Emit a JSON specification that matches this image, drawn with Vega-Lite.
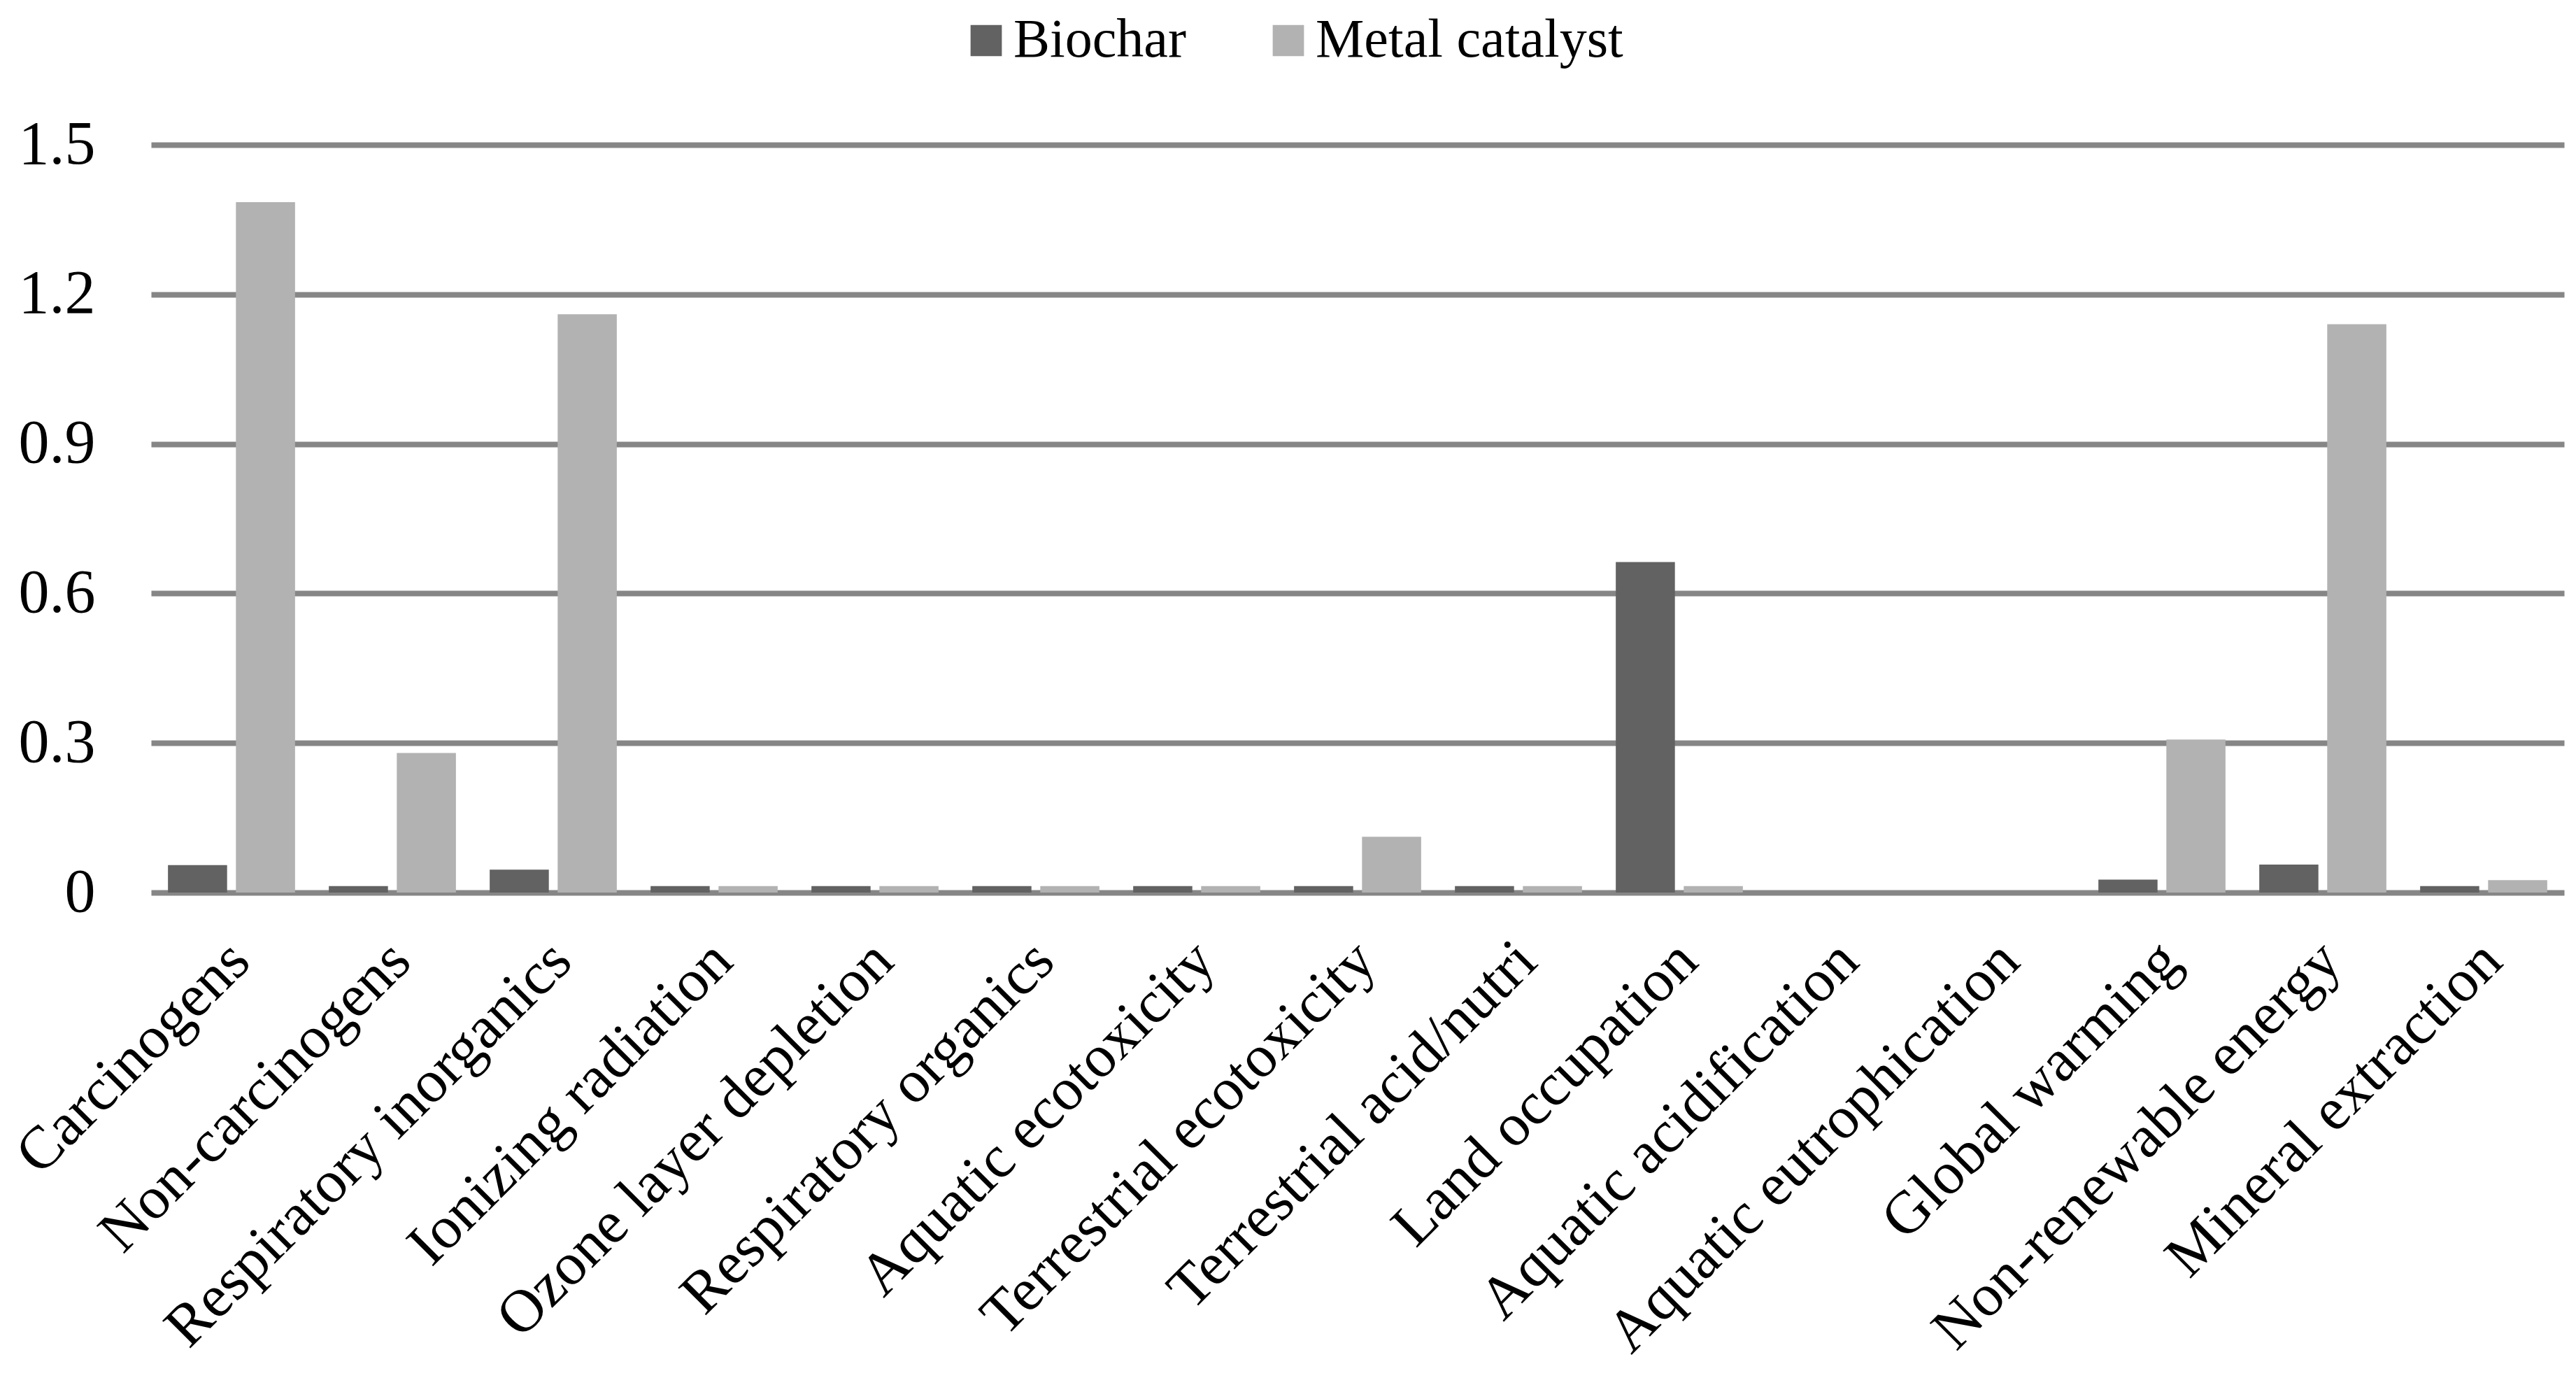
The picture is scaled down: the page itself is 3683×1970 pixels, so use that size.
{
  "$schema": "https://vega.github.io/schema/vega-lite/v6.json",
  "width": 3450,
  "height": 1069,
  "autosize": {"type": "none"},
  "padding": {"left": 216, "top": 207, "right": 17, "bottom": 694},
  "background": "white",
  "data": {
    "values": [
      {"category": "Carcinogens", "series": "Biochar", "value": 0.055},
      {"category": "Carcinogens", "series": "Metal catalyst", "value": 1.385},
      {"category": "Non-carcinogens", "series": "Biochar", "value": 0.013},
      {"category": "Non-carcinogens", "series": "Metal catalyst", "value": 0.28},
      {"category": "Respiratory inorganics", "series": "Biochar", "value": 0.046},
      {"category": "Respiratory inorganics", "series": "Metal catalyst", "value": 1.16},
      {"category": "Ionizing radiation", "series": "Biochar", "value": 0.013},
      {"category": "Ionizing radiation", "series": "Metal catalyst", "value": 0.013},
      {"category": "Ozone layer depletion", "series": "Biochar", "value": 0.013},
      {"category": "Ozone layer depletion", "series": "Metal catalyst", "value": 0.013},
      {"category": "Respiratory organics", "series": "Biochar", "value": 0.013},
      {"category": "Respiratory organics", "series": "Metal catalyst", "value": 0.013},
      {"category": "Aquatic ecotoxicity", "series": "Biochar", "value": 0.013},
      {"category": "Aquatic ecotoxicity", "series": "Metal catalyst", "value": 0.013},
      {"category": "Terrestrial ecotoxicity", "series": "Biochar", "value": 0.013},
      {"category": "Terrestrial ecotoxicity", "series": "Metal catalyst", "value": 0.112},
      {"category": "Terrestrial acid/nutri", "series": "Biochar", "value": 0.013},
      {"category": "Terrestrial acid/nutri", "series": "Metal catalyst", "value": 0.013},
      {"category": "Land occupation", "series": "Biochar", "value": 0.663},
      {"category": "Land occupation", "series": "Metal catalyst", "value": 0.013},
      {"category": "Aquatic acidification", "series": "Biochar", "value": 0},
      {"category": "Aquatic acidification", "series": "Metal catalyst", "value": 0},
      {"category": "Aquatic eutrophication", "series": "Biochar", "value": 0},
      {"category": "Aquatic eutrophication", "series": "Metal catalyst", "value": 0},
      {"category": "Global warming", "series": "Biochar", "value": 0.026},
      {"category": "Global warming", "series": "Metal catalyst", "value": 0.307},
      {"category": "Non-renewable energy", "series": "Biochar", "value": 0.056},
      {"category": "Non-renewable energy", "series": "Metal catalyst", "value": 1.14},
      {"category": "Mineral extraction", "series": "Biochar", "value": 0.013},
      {"category": "Mineral extraction", "series": "Metal catalyst", "value": 0.025}
    ]
  },
  "mark": {"type": "bar"},
  "encoding": {
    "x": {
      "field": "category",
      "type": "nominal",
      "sort": null,
      "title": null,
      "scale": {"paddingInner": 0.21, "paddingOuter": 0.105},
      "axis": {
        "labelAngle": -45,
        "labelFontSize": 86,
        "labelColor": "black",
        "labelFont": "Liberation Serif",
        "labelPadding": 54,
        "labelOffset": -18,
        "labelLimit": 0,
        "labelOverlap": false,
        "labelBound": false,
        "ticks": false,
        "domain": false,
        "grid": false
      }
    },
    "xOffset": {
      "field": "series",
      "type": "nominal",
      "sort": ["Biochar", "Metal catalyst"],
      "scale": {"paddingInner": 0.13}
    },
    "y": {
      "field": "value",
      "type": "quantitative",
      "title": null,
      "scale": {"domain": [0, 1.5], "nice": false},
      "axis": {
        "values": [0, 0.3, 0.6, 0.9, 1.2, 1.5],
        "format": ".2~g",
        "grid": true,
        "gridColor": "#868686",
        "gridWidth": 8,
        "domain": false,
        "ticks": false,
        "labelFontSize": 88,
        "labelFont": "Liberation Serif",
        "labelColor": "black",
        "labelPadding": 80
      }
    },
    "color": {
      "field": "series",
      "type": "nominal",
      "scale": {"domain": ["Biochar", "Metal catalyst"], "range": ["#626262", "#b2b2b2"]},
      "legend": {
        "title": null,
        "orient": "none",
        "direction": "horizontal",
        "legendX": 1155,
        "legendY": -188,
        "symbolType": "square",
        "symbolSize": 2000,
        "symbolStrokeWidth": 0,
        "labelFontSize": 78,
        "labelFont": "Liberation Serif",
        "labelColor": "black",
        "labelOffset": 0,
        "columnPadding": 107,
        "labelLimit": 0
      }
    }
  },
  "config": {"view": {"stroke": null}, "font": "Liberation Serif"}
}
